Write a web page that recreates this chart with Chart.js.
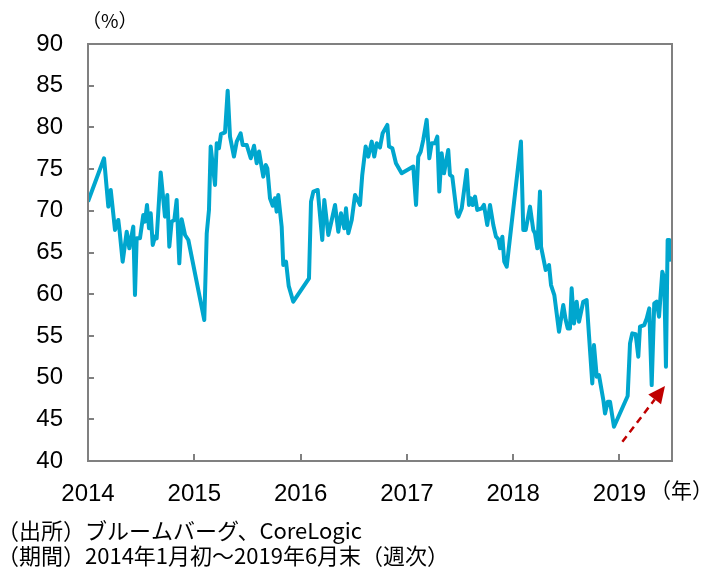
<!DOCTYPE html>
<html>
<head>
<meta charset="utf-8">
<script src="https://cdn.jsdelivr.net/npm/chart.js@4"></script>
<style>
  html, body { margin: 0; padding: 0; background: #fff; }
  #wrap { position: relative; width: 720px; height: 572px; }
</style>
</head>
<body>
<div id="wrap"><canvas id="chart" width="720" height="572"></canvas></div>
<script>
// weekly series, x = decimal year, y = percent
const dates = [
  2014.000, 2014.151, 2014.191, 2014.214, 2014.229, 2014.254, 2014.285, 2014.298, 2014.326, 2014.364,
  2014.389, 2014.405, 2014.426, 2014.442, 2014.458, 2014.489, 2014.520, 2014.536, 2014.555, 2014.574,
  2014.590, 2014.609, 2014.630, 2014.646, 2014.684, 2014.724, 2014.746, 2014.765, 2014.787, 2014.812,
  2014.834, 2014.859, 2014.881, 2014.913, 2014.944, 2015.094, 2015.117, 2015.138, 2015.154, 2015.195,
  2015.211, 2015.232, 2015.251, 2015.289, 2015.314, 2015.336, 2015.373, 2015.399, 2015.436, 2015.455,
  2015.493, 2015.531, 2015.562, 2015.587, 2015.609, 2015.649, 2015.672, 2015.687, 2015.712, 2015.738,
  2015.759, 2015.775, 2015.790, 2015.822, 2015.837, 2015.863, 2015.888, 2015.931, 2016.079, 2016.098,
  2016.120, 2016.161, 2016.204, 2016.223, 2016.261, 2016.293, 2016.324, 2016.355, 2016.380, 2016.411,
  2016.427, 2016.449, 2016.481, 2016.512, 2016.559, 2016.580, 2016.612, 2016.637, 2016.669, 2016.693,
  2016.716, 2016.747, 2016.772, 2016.816, 2016.832, 2016.863, 2016.897, 2016.951, 2017.060, 2017.086,
  2017.107, 2017.130, 2017.154, 2017.186, 2017.211, 2017.233, 2017.264, 2017.286, 2017.305, 2017.327,
  2017.349, 2017.389, 2017.405, 2017.427, 2017.469, 2017.484, 2017.516, 2017.563, 2017.584, 2017.603,
  2017.619, 2017.641, 2017.662, 2017.704, 2017.725, 2017.756, 2017.782, 2017.813, 2017.838, 2017.860,
  2017.876, 2017.898, 2017.916, 2017.939, 2018.073, 2018.095, 2018.118, 2018.158, 2018.189, 2018.205,
  2018.227, 2018.252, 2018.262, 2018.306, 2018.337, 2018.356, 2018.387, 2018.431, 2018.471, 2018.494,
  2018.513, 2018.534, 2018.550, 2018.572, 2018.597, 2018.619, 2018.659, 2018.691, 2018.713, 2018.744,
  2018.760, 2018.786, 2018.807, 2018.848, 2018.864, 2018.889, 2018.911, 2018.948, 2019.077, 2019.099,
  2019.120, 2019.152, 2019.177, 2019.193, 2019.233, 2019.256, 2019.280, 2019.303, 2019.327, 2019.350,
  2019.372, 2019.403, 2019.421, 2019.437, 2019.453, 2019.469, 2019.485
];
const values = [
  71.1, 76.3, 70.5, 72.5, 70.7, 67.7, 68.9, 67.5, 63.9, 67.5,
  65.5, 66.7, 68.1, 59.9, 66.7, 66.7, 69.5, 68.7, 70.7, 67.9,
  69.7, 65.9, 66.9, 66.7, 74.6, 69.3, 71.9, 65.7, 68.7, 68.9,
  71.3, 63.7, 69.0, 67.1, 66.5, 56.9, 67.3, 70.1, 77.7, 73.1,
  78.1, 77.5, 79.2, 79.4, 84.4, 78.9, 76.5, 78.3, 79.3, 77.9,
  77.9, 76.3, 77.8, 75.7, 77.1, 74.1, 75.5, 75.1, 71.5, 70.6,
  71.5, 69.9, 71.9, 68.1, 63.5, 63.9, 61.0, 59.1, 61.9, 71.1,
  72.3, 72.5, 66.5, 71.3, 67.1, 68.9, 70.7, 67.5, 69.7, 67.9,
  70.3, 67.3, 68.9, 71.9, 70.7, 74.3, 77.7, 76.5, 78.3, 76.5,
  78.1, 77.6, 79.3, 80.3, 77.7, 77.5, 75.7, 74.5, 75.3, 70.7,
  76.5, 77.1, 78.5, 80.9, 76.3, 78.1, 78.1, 78.9, 72.3, 76.9,
  74.5, 77.3, 74.3, 74.1, 69.7, 69.3, 70.3, 74.9, 70.7, 71.5,
  70.7, 71.7, 70.1, 70.3, 70.7, 68.3, 70.7, 68.3, 66.9, 66.6,
  65.5, 66.9, 63.9, 63.3, 78.3, 67.7, 67.7, 70.5, 67.7, 67.3,
  65.5, 72.3, 65.7, 62.9, 63.5, 61.1, 59.9, 55.5, 58.7, 56.9,
  55.9, 55.9, 60.7, 56.5, 59.1, 56.7, 59.1, 59.3, 55.1, 49.3,
  53.9, 50.1, 50.3, 47.3, 45.7, 47.1, 47.1, 44.1, 47.8, 54.1,
  55.3, 55.2, 52.5, 56.1, 56.3, 57.1, 58.3, 49.1, 58.9, 59.1,
  57.3, 62.7, 61.9, 51.3, 66.5, 66.5, 63.9
];
const yearTicks = [2014, 2015, 2016, 2017, 2018, 2019];
const arrowFrom = [2019.027, 42.3];
const arrowTo = [2019.428, 49.0];

const frameColor = '#808080';
const lineColor = '#00A6CE';
const jpFont = '"Noto Sans CJK JP", "Noto Sans", sans-serif';
const numFont = '"Liberation Sans", Arial, sans-serif';

// frame, inner tick marks, arrow and captions
const decorations = {
  id: 'decorations',
  afterDraw(chart) {
    const { ctx, chartArea: a, scales: { x, y } } = chart;
    ctx.save();
    ctx.strokeStyle = frameColor;
    ctx.lineWidth = 2;
    ctx.strokeRect(a.left, a.top, a.right - a.left, a.bottom - a.top);
    ctx.beginPath();
    y.ticks.forEach(t => {
      const py = Math.round(y.getPixelForValue(t.value));
      ctx.moveTo(a.left, py); ctx.lineTo(a.left + 6, py);
    });
    x.ticks.forEach(t => {
      const px = Math.round(x.getPixelForValue(t.value));
      ctx.moveTo(px, a.bottom); ctx.lineTo(px, a.bottom - 7);
    });
    ctx.stroke();

    // red dashed arrow
    const x0 = x.getPixelForValue(arrowFrom[0]), y0 = y.getPixelForValue(arrowFrom[1]);
    const x1 = x.getPixelForValue(arrowTo[0]), y1 = y.getPixelForValue(arrowTo[1]);
    const ang = Math.atan2(y1 - y0, x1 - x0);
    const headLen = 17, headW = 8;
    const bx = x1 - headLen * Math.cos(ang), by = y1 - headLen * Math.sin(ang);
    ctx.strokeStyle = '#C00000';
    ctx.fillStyle = '#C00000';
    ctx.lineWidth = 2.5;
    ctx.setLineDash([7, 5]);
    ctx.beginPath();
    ctx.moveTo(x0, y0); ctx.lineTo(bx, by);
    ctx.stroke();
    ctx.setLineDash([]);
    ctx.beginPath();
    ctx.moveTo(x1, y1);
    ctx.lineTo(bx + headW * Math.sin(ang), by - headW * Math.cos(ang));
    ctx.lineTo(bx - headW * Math.sin(ang), by + headW * Math.cos(ang));
    ctx.closePath();
    ctx.fill();

    // captions
    ctx.fillStyle = '#000';
    ctx.textBaseline = 'middle';
    ctx.textAlign = 'left';
    ctx.font = '19px ' + jpFont;
    ctx.fillText('（%）', 82, 21);
    ctx.font = '21px ' + jpFont;
    ctx.fillText('（年）', 650, 490);
    ctx.font = '22px ' + jpFont;
    ctx.fillText('（出所）ブルームバーグ、CoreLogic', -3, 531);
    ctx.fillText('（期間）2014年1月初～2019年6月末（週次）', -3, 556);
    ctx.restore();
  }
};

new Chart(document.getElementById('chart'), {
  type: 'line',
  data: {
    datasets: [{
      data: dates.map((d, i) => ({ x: d, y: values[i] })),
      borderColor: lineColor,
      borderWidth: 4,
      borderJoinStyle: 'round',
      pointRadius: 0,
      tension: 0,
      fill: false
    }]
  },
  options: {
    responsive: false,
    animation: false,
    events: [],
    layout: { padding: { top: 44, right: 48, bottom: 0, left: 0 } },
    plugins: { legend: { display: false }, tooltip: { enabled: false } },
    scales: {
      x: {
        type: 'linear',
        min: yearTicks[0],
        max: 2019.494,
        grid: { display: false, drawTicks: false },
        border: { display: false },
        afterFit: s => { s.height = 111; },
        afterBuildTicks: s => { s.ticks = yearTicks.map(v => ({ value: v })); },
        ticks: {
          autoSkip: false, maxRotation: 0, padding: 19, color: '#000',
          font: { family: numFont, size: 24 },
          callback: v => String(v)
        }
      },
      y: {
        min: 40,
        max: 90,
        grid: { display: false, drawTicks: false },
        border: { display: false },
        afterFit: s => { s.width = 88; },
        ticks: {
          stepSize: 5, padding: 25, color: '#000',
          font: { family: numFont, size: 24 }
        }
      }
    }
  },
  plugins: [decorations]
});
</script>
</body>
</html>
